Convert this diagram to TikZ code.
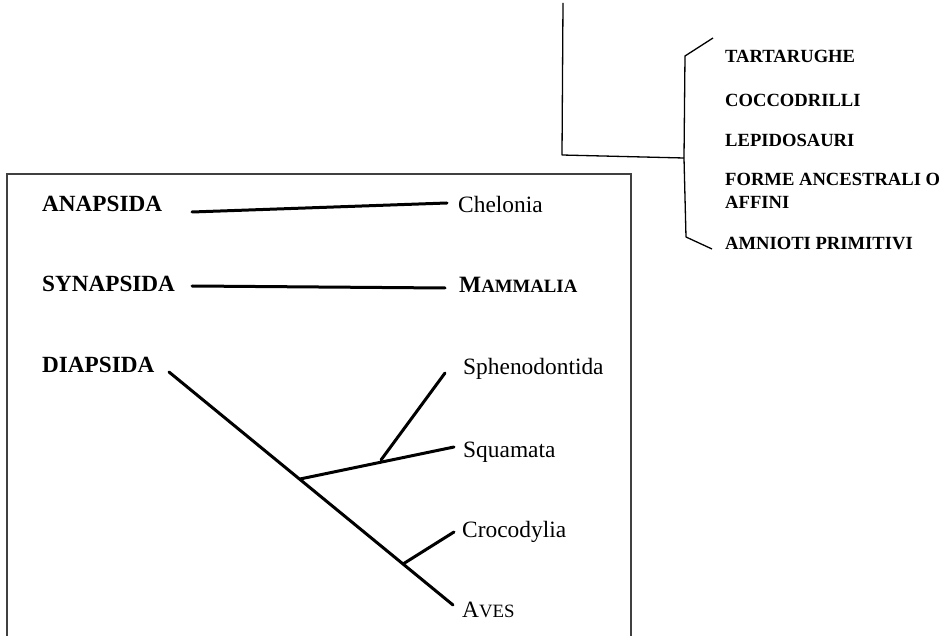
\documentclass[tikz,border=0pt]{standalone}
\usepackage{fontspec}
\setmainfont{Liberation Serif}
\usetikzlibrary{positioning}

\newcommand{\smallcap}[2]{#1{\fontsize{18.8}{20}\selectfont #2}}

\begin{document}
\begin{tikzpicture}[x=1pt,y=-1pt,
    group node/.style={anchor=base west,inner sep=0pt,font=\fontsize{18.6}{21}\selectfont\bfseries},
    clade node/.style={anchor=base west,inner sep=0pt,font=\fontsize{23.2}{26}\selectfont\bfseries},
    taxon node/.style={anchor=base west,inner sep=0pt,font=\fontsize{23.4}{26}\selectfont},
    thin branch/.style={line width=1.3pt,line join=round},
    thick branch/.style={line width=3pt,line cap=round},
    frame/.style={line width=1.3pt,black!75}]
\useasboundingbox (0,0) rectangle (943,636);

% top right key
\node[group node] (tartarughe)  at (725,63)  {TARTARUGHE};
\node[group node] (coccodrilli) at (725,107) {COCCODRILLI};
\node[group node] (lepidosauri) at (725,147) {LEPIDOSAURI};
\node[group node] (forme)       at (725,186) {FORME ANCESTRALI O};
\node[group node] (affini)      at (725,209) {AFFINI};
\node[group node] (amnioti)     at (725,250) {AMNIOTI PRIMITIVI};

\coordinate (root)    at (563,3);
\coordinate (corner)  at (562,155);
\coordinate (fork)    at (684,158);
\coordinate (forktop) at (685,56);
\coordinate (forkbot) at (686,237);
\coordinate (tiptop)  at (713,38);
\coordinate (tipbot)  at (712,249);
\draw[thin branch] (root) -- (corner) -- (fork);
\draw[thin branch] (tiptop) -- (forktop) -- (fork) -- (forkbot) -- (tipbot);

% frame, open at the bottom
\draw[frame] (7,636) -- (7,174) -- (631,174) -- (631,636);

% left labels
\node[clade node] (anapsida)  at (42,212) {ANAPSIDA};
\node[clade node] (synapsida) at (42,292) {SYNAPSIDA};
\node[clade node] (diapsida)  at (42,373) {DIAPSIDA};

\node[taxon node] (chelonia)      at (458,213) {Chelonia};
\node[taxon node] (mammalia)      at (459,293) {\bfseries\smallcap{M}{AMMALIA}};
\node[taxon node] (sphenodontida) at (463,375) {Sphenodontida};
\node[taxon node] (squamata)      at (463,457) {Squamata};
\node[taxon node] (crocodylia)    at (462,537) {Crocodylia};
\node[taxon node] (aves)          at (462,617) {\smallcap{A}{VES}};

% tree
\coordinate (ana0) at (192,212);
\coordinate (ana1) at (447,203);
\coordinate (syn0) at (192,286);
\coordinate (syn1) at (445,288);
\coordinate (dia0) at (169,372);
\coordinate (dia1) at (453,605);
\coordinate (lep)  at (300,479);
\coordinate (squ)  at (454,447);
\coordinate (sph0) at (381,460);
\coordinate (sph1) at (445,373);
\coordinate (arc)  at (403,564);
\coordinate (cro)  at (454,532);

\draw[thick branch] (ana0) -- (ana1);
\draw[thick branch] (syn0) -- (syn1);
\draw[thick branch] (dia0) -- (dia1);
\draw[thick branch] (lep) -- (squ);
\draw[thick branch] (sph0) -- (sph1);
\draw[thick branch] (arc) -- (cro);
\end{tikzpicture}
\end{document}
